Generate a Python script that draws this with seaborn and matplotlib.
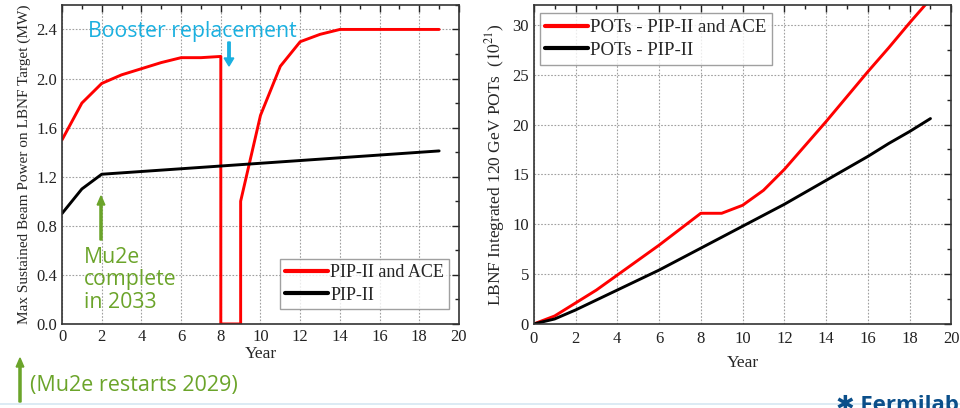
import matplotlib
matplotlib.use("Agg")
import matplotlib.pyplot as plt
import seaborn as sns
import pandas as pd
from matplotlib.ticker import MultipleLocator

# ---- data ----
pwr_year_ace = [0, 1, 2, 3, 4, 5, 6, 7, 8, 8, 9, 9, 10, 11, 12, 13, 14, 15, 16, 17, 18, 19]
pwr_ace = [1.50, 1.80, 1.96, 2.03, 2.08, 2.13, 2.17, 2.17, 2.18, 0.0, 0.0, 1.00, 1.70, 2.10, 2.30, 2.36, 2.40, 2.40, 2.40, 2.40, 2.40, 2.40]
pwr_year_pip = [0, 1, 2, 19]
pwr_pip = [0.90, 1.10, 1.22, 1.41]

pot_year = list(range(0, 20))
pot_ace = [0.0, 0.8, 2.1, 3.4, 4.9, 6.4, 7.9, 9.5, 11.1, 11.1, 11.9, 13.4, 15.5, 17.9, 20.3, 22.8, 25.3, 27.7, 30.2, 32.6]
pot_pip = [0.0, 0.5, 1.4, 2.4, 3.4, 4.4, 5.4, 6.5, 7.6, 8.7, 9.8, 10.9, 12.0, 13.2, 14.4, 15.6, 16.8, 18.1, 19.3, 20.6]

left_labels = ["PIP-II and ACE", "PIP-II"]
right_labels = ["POTs - PIP-II and ACE", "POTs - PIP-II"]

sns.set_theme(style="white")
plt.rcParams['font.family'] = ['Liberation Serif', 'DejaVu Serif']
plt.rcParams['mathtext.fontset'] = 'stix'

fig = plt.figure(figsize=(9.6, 4.08), dpi=100)
axL = fig.add_axes([0.0646, 0.206, 0.4135, 0.782])
axR = fig.add_axes([0.556, 0.206, 0.435, 0.782])

RED = "#ff0000"
BLK = "#000000"
LW = 2.1

df_l1 = pd.DataFrame({"Year": pwr_year_ace, "P": pwr_ace})
df_l2 = pd.DataFrame({"Year": pwr_year_pip, "P": pwr_pip})
sns.lineplot(data=df_l1, x="Year", y="P", ax=axL, color=RED, lw=LW, estimator=None, sort=False, label=left_labels[0])
sns.lineplot(data=df_l2, x="Year", y="P", ax=axL, color=BLK, lw=LW, estimator=None, sort=False, label=left_labels[1])

df_r1 = pd.DataFrame({"Year": pot_year, "N": pot_ace})
df_r2 = pd.DataFrame({"Year": pot_year, "N": pot_pip})
sns.lineplot(data=df_r1, x="Year", y="N", ax=axR, color=RED, lw=LW, estimator=None, sort=False, label=right_labels[0])
sns.lineplot(data=df_r2, x="Year", y="N", ax=axR, color=BLK, lw=LW, estimator=None, sort=False, label=right_labels[1])

for ax in (axL, axR):
    ax.set_xlim(0, 20)
    ax.xaxis.set_major_locator(MultipleLocator(2))
    ax.xaxis.set_minor_locator(MultipleLocator(1))
    ax.grid(True, which="major", color="#a0a0a0", linestyle=(0, (1.5, 1.5)), lw=0.8)
    ax.tick_params(which="both", direction="in", top=True, right=True, labelsize=12, colors="#222222")
    ax.tick_params(which="major", length=5, width=1)
    ax.tick_params(which="minor", length=3, width=1)
    for s in ax.spines.values():
        s.set_color("#333333")
        s.set_linewidth(1.2)
    ax.set_xlabel("Year", fontsize=12.5, labelpad=1)

axL.set_ylim(0, 2.6)
axL.yaxis.set_major_locator(MultipleLocator(0.4))
axL.yaxis.set_minor_locator(MultipleLocator(0.2))
axL.yaxis.set_major_formatter(matplotlib.ticker.FormatStrFormatter("%.1f"))
axL.set_ylabel("Max Sustained Beam Power on LBNF Target (MW)", fontsize=11, labelpad=4)

axR.set_ylim(0, 32)
axR.yaxis.set_major_locator(MultipleLocator(5))
axR.yaxis.set_minor_locator(MultipleLocator(2.5))
axR.set_ylabel(r"LBNF Integrated 120 GeV POTs  ($10^{21}$)", fontsize=12.5, labelpad=4)
axR.tick_params(axis="x", pad=5)
axR.set_xlabel("Year", fontsize=12.5, labelpad=6)

legL = axL.legend(loc="lower right", bbox_to_anchor=(0.985, 0.035), fontsize=13, frameon=True, fancybox=False,
                  edgecolor="#888888", handlelength=2.4, handletextpad=0.1, borderpad=0.3, labelspacing=0.3,
                  borderaxespad=0.2)
legR = axR.legend(loc="upper left", bbox_to_anchor=(0.005, 0.985), fontsize=13.5, frameon=True, fancybox=False,
                  edgecolor="#888888", handlelength=2.3, handletextpad=0.1, borderpad=0.3, labelspacing=0.3,
                  borderaxespad=0.2)
for leg in (legL, legR):
    leg.get_frame().set_linewidth(1.0)
    for h in leg.get_lines():
        h.set_linewidth(3)

SANS = ['Open Sans', 'DejaVu Sans']
CYAN = "#1ab0e0"
GREEN = "#6ba42a"

fig.text(88/960, 1 - 31/408, "Booster replacement", color=CYAN, fontsize=15.3, family=SANS, va="center", ha="left")
fig.add_artist(matplotlib.patches.FancyArrow(229/960, 1 - 42/408, 0, -24/408, width=0.0025, head_width=0.010,
                                             head_length=8/408, color=CYAN, length_includes_head=True,
                                             transform=fig.transFigure))
fig.text(84/960, 1 - 280/408, "Mu2e\ncomplete\nin 2033", color=GREEN, fontsize=15.3, family=SANS,
         va="center", ha="left", linespacing=1.1)
fig.add_artist(matplotlib.patches.FancyArrow(101/960, 1 - 240/408, 0, 44/408, width=0.0022, head_width=0.008,
                                             head_length=9/408, color=GREEN, length_includes_head=True,
                                             transform=fig.transFigure))
fig.add_artist(matplotlib.patches.FancyArrow(20/960, 1 - 402/408, 0, 44/408, width=0.0022, head_width=0.008,
                                             head_length=9/408, color=GREEN, length_includes_head=True,
                                             transform=fig.transFigure))
fig.text(30/960, 1 - 385/408, "(Mu2e restarts 2029)", color=GREEN, fontsize=15.5, family=SANS, va="center", ha="left")

fig.add_artist(matplotlib.lines.Line2D([0, 1], [1 - 404/408, 1 - 404/408], color="#d5e8f2", lw=1.2,
                                       transform=fig.transFigure))
fig.text(836/960, 1 - 395/408, "\u2731 Fermilab", color="#0b4f8a", fontsize=16, family=SANS, weight="bold",
         va="top", ha="left")

fig.savefig("out.png", dpi=100)
